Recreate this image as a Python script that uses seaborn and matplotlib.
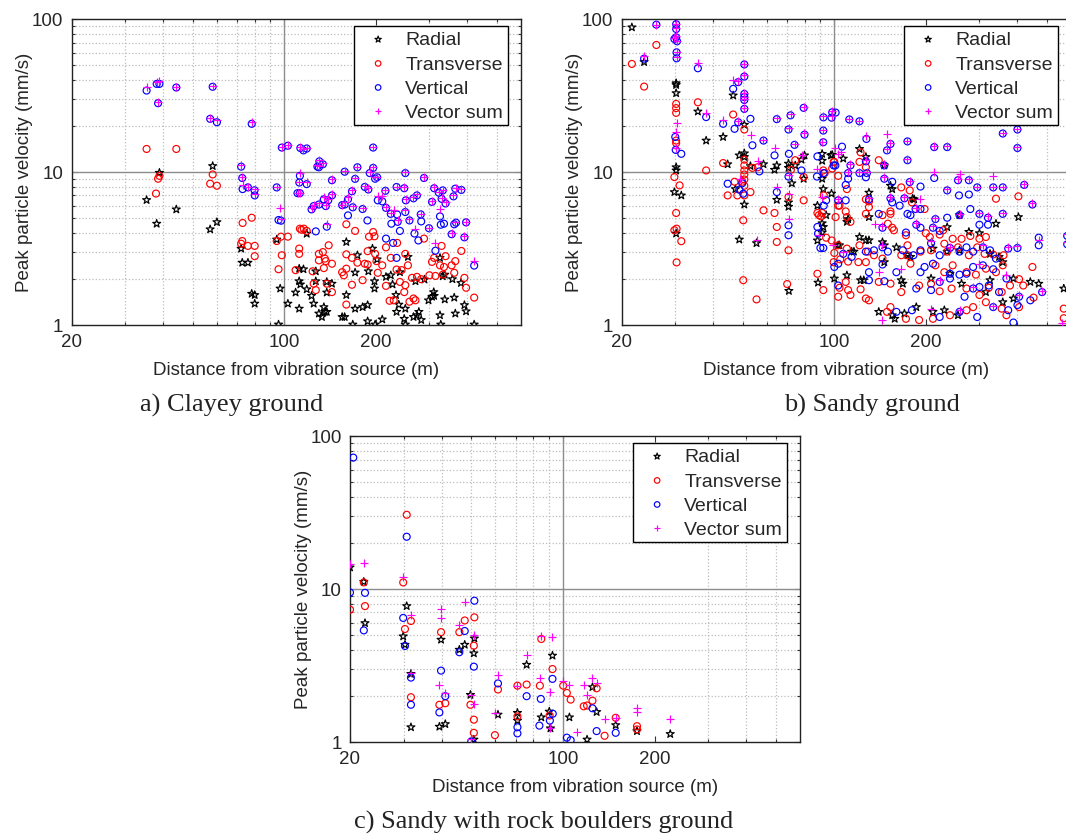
import numpy as np
import pandas as pd
import matplotlib
matplotlib.use("Agg")
import matplotlib.pyplot as plt
import seaborn as sns
from matplotlib.ticker import FixedLocator, FixedFormatter, NullFormatter

sns.set_theme(style="white")
plt.rcParams['font.family'] = ['Liberation Sans', 'DejaVu Sans']

# ---------------- Data ----------------
x_ticks = [20, 100, 200]
x_tick_labels = ["20", "100", "200"]
y_ticks = [1, 10, 100]
y_tick_labels = ["1", "10", "100"]
series_names = ["Radial", "Transverse", "Vertical", "Vector sum"]
captions = ["a) Clayey ground", "b) Sandy ground", "c) Sandy with rock boulders ground"]

# Panel a: Clayey ground
a_rad_d = [35.3, 38.1, 38.9, 44.2, 58.2, 57.1, 60.1, 72.2, 72.8, 76, 78.2, 80, 80, 94.5, 95.8, 97, 102.8, 109, 112, 115.7,
           112, 113, 112, 118.6, 118.6, 123, 125, 127, 127, 130, 133, 135, 136, 138, 138, 138, 143.5, 155, 158, 160,
           160, 168, 171, 171, 174, 181, 188, 189, 188, 195, 198, 198, 199, 202, 210, 216, 224, 227, 233, 234,
           238, 240, 248, 250, 255, 250, 266, 270, 273, 277, 282, 289, 298, 306, 310, 311, 325, 325, 327, 332,
           337, 337, 357, 362, 365, 381, 391, 396, 421]
a_rad_v = [6.53, 4.57, 9.85, 5.67, 10.9, 4.2, 4.68, 3.14, 2.54, 2.54, 1.59, 1.56, 1.37, 3.6, 1.0, 1.72, 1.37, 1.62, 2.32, 2.3,
           1.92, 1.83, 1.27, 1.7, 3.93, 1.54, 1.37, 2.23, 1.92, 1.18, 1.12, 1.3, 1.21, 1.21, 1.9, 1.62, 1.85, 1.12, 1.12, 1.56,
           3.47, 1.0, 1.27, 2.19, 2.84, 1.3, 1.34, 2.23, 1.05, 3.14, 1.92, 1.72, 1.0, 2.67, 1.08, 2.05, 2.1, 1.83, 1.56, 1.21,
           1.35, 2.2, 1.09, 1.27, 2.77, 1.0, 1.12, 1.92, 1.15, 1.21, 1.07, 1.97, 1.44, 1.52, 1.63, 1.54, 1.15, 2.73, 1.0, 2.07,
           2.12, 1.46, 1.98, 1.5, 1.18, 1.87, 1.34, 1.22, 1.0]
a_tra_d = [35.3, 44.2, 38.5, 38.9, 37.9, 58.2, 57.1, 60.1, 73, 78.2, 72.2, 72.8, 76, 80, 80, 94.5, 97.6, 102.8, 98.2, 95.8,
           112.6, 114, 116, 118.6, 112, 112, 109, 125, 127, 124, 130, 130, 134, 136, 137, 135, 138, 140, 143.5, 143.5,
           155, 160, 160, 160, 157, 160, 167, 167, 171, 174, 181, 184, 188, 188, 190, 196, 198, 199, 201, 203,
           210, 216, 216, 224, 222, 229, 234, 235, 240, 243, 248, 250, 250, 255, 258, 263, 266, 270, 273, 282,
           288, 300, 306, 311, 314, 325, 329, 332, 335, 339, 355, 362, 365, 382, 391, 396, 421]
a_tra_v = [14.1, 14.1, 9.0, 9.4, 7.2, 9.6, 8.35, 8.1, 4.62, 5.0, 3.38, 3.52, 3.27, 3.27, 2.8, 3.52, 3.76, 3.76, 2.84, 2.3,
           4.24, 4.17, 4.24, 4.1, 3.14, 2.9, 2.27, 1.85, 1.68, 2.23, 2.9, 2.63, 2.98, 2.7, 2.6, 2.34, 1.85, 3.3, 1.63, 2.5,
           2.2, 4.53, 2.88, 2.32, 2.1, 1.35, 1.82, 2.73, 4.1, 2.54, 1.95, 2.5, 2.47, 3.02, 3.76, 4.03, 3.78, 2.9, 2.6, 2.18,
           2.44, 3.2, 1.79, 2.73, 1.43, 1.44, 2.29, 3.42, 1.9, 2.27, 1.63, 1.81, 2.9, 2.44, 1.41, 2.02, 1.48, 1.44, 2.05, 1.98,
           3.65, 2.1, 2.57, 2.73, 2.08, 2.44, 3.27, 2.12, 2.38, 2.8, 2.44, 2.18, 2.6, 3.03, 2.02, 1.74, 1.5]
a_ver_d = [35.3, 38.1, 38.9, 38.5, 44.2, 58.2, 57.1, 60.1, 78.2, 98.2, 102.8, 113, 115.7, 118.6, 72.2, 72.8, 73, 76, 79.9, 80,
           94.5, 95.8, 97.6, 112.6, 112.1, 110.6, 112.6, 118.6, 127, 123, 125, 130, 130.5, 134, 128.6, 130, 135, 137, 139.5, 143.5,
           143.5, 138, 155, 158, 162, 158, 162, 167, 168, 171, 174, 181, 187.7, 184, 189, 191, 196, 196, 199, 202,
           203, 210, 215, 216, 216, 224, 225, 228, 234, 235, 234, 240, 236, 248, 250, 250, 251, 258, 266, 268,
           273, 276, 281, 282, 288, 299, 306, 311, 314, 322, 325, 327, 329, 335, 332, 339, 355, 360, 362, 365,
           367, 382, 391, 396, 421]
a_ver_v = [34.0, 37.6, 37.6, 28.1, 35.6, 36, 22.2, 21.1, 20.6, 14.4, 14.8, 14.3, 13.8, 14.2, 10.8, 9.1, 7.7, 7.9, 7.56, 7.0,
           7.9, 4.83, 4.78, 9.4, 8.5, 7.24, 7.24, 8.3, 4.07, 5.67, 5.96, 10.7, 11.7, 11.2, 10.8, 6.1, 6.6, 5.96, 6.5, 7.0,
           8.8, 4.37, 6.05, 6.1, 6.6, 10, 5.18, 7.45, 5.85, 8.98, 10.7, 5.7, 4.8, 7.95, 7.65, 9.8, 14.4, 10.6, 9, 9.2,
           6.5, 6.4, 7.5, 5.8, 3.65, 5.3, 4.57, 3.42, 7.95, 5.25, 2.73, 4.1, 4.7, 7.8, 9.8, 5.45, 6.5, 4.8, 6.7, 3.94,
           7.0, 3.55, 5.26, 4.73, 9.1, 4.27, 6.35, 7.8, 3.04, 7.3, 5.1, 4.5, 6.65, 4.57, 7.55, 6.2, 3.9, 6.9, 4.53, 7.75,
           4.64, 7.6, 3.72, 4.66, 2.43]
a_vec_d = [35.3, 38.1, 38.9, 38.5, 44.2, 58.2, 57.1, 60.1, 78.2, 98.2, 102.8, 113, 115.7, 118.6, 72.2, 72.8, 73, 76, 79.9, 80,
           94.5, 97, 97.6, 112.6, 112.1, 110.6, 112.6, 118.6, 123, 125, 130, 130.5, 134, 128.6, 130, 135, 137, 139.5, 143.5, 143.5,
           138, 155, 158, 162, 158, 167, 168, 171, 174, 181, 184, 189, 191, 196, 196, 199, 202, 203, 210, 215,
           216, 224, 229, 234, 236, 248, 250, 250, 251, 258, 266, 270, 273, 281, 288, 299, 306, 311, 314, 322,
           325, 329, 332, 339, 355, 360, 365, 367, 382, 391, 396, 421]
a_vec_v = [35.8, 38.5, 39.2, 28.5, 36, 36.5, 22.5, 21.8, 21.2, 14.6, 15, 14.6, 14.0, 14.4, 11, 9.3, 8.2, 8.0, 7.7, 7.2,
           8.0, 5.8, 4.9, 9.8, 8.6, 7.3, 7.3, 8.6, 5.8, 6.1, 10.9, 11.9, 11.4, 11, 6.2, 6.8, 6.1, 6.6, 7.1, 8.9,
           4.55, 6.1, 6.3, 6.8, 10.1, 7.6, 6.0, 9.1, 10.8, 5.8, 8.1, 7.8, 9.9, 14.6, 10.8, 9.2, 9.3, 6.9, 6.9, 7.6,
           5.9, 5.4, 5.6, 8.0, 4.8, 7.9, 9.9, 5.6, 6.6, 4.9, 6.8, 4.2, 7.1, 5.3, 9.2, 4.3, 6.4, 7.9, 3.4, 7.4,
           5.7, 6.7, 7.6, 6.3, 3.95, 7.0, 4.7, 7.8, 7.7, 3.8, 4.7, 2.6]

# Panel b: Sandy ground
b_rad_d = [21.6, 23.7, 30.2, 30.2, 30.2, 30.2, 30.2, 29.8, 31.4, 30.2, 35.6, 37.9, 43.1, 46.5, 50.6, 44.6, 48.7, 50.6, 50.6, 47.3,
           50.6, 53, 58.5, 63.6, 64.7, 48.7, 55.5, 70.7, 70.7, 72.5, 74.4, 78, 79.8, 79.3, 64.7, 70.7, 70.7, 70.9, 91.2, 91.2,
           98.4, 91.2, 92, 97.9, 88, 94, 91.2, 92, 88, 91.2, 88.4, 100, 104, 97.4,
           121, 107, 127, 146, 153, 155, 181, 183, 111, 110, 130, 130, 258, 403, 340, 235, 277, 300, 121, 127,
           130, 144, 146, 103, 114, 160, 174, 178, 211, 235, 258, 325, 348, 358, 146, 116, 122, 125, 110, 166,
           168, 208, 240, 262, 315, 325, 388, 441, 470, 140, 158, 155, 211, 230, 255, 358, 388, 186, 568, 170]
b_rad_v = [88.2, 52.3, 38, 37, 32.7, 10.7, 10.2, 7.36, 7.0, 3.94, 24.8, 16, 16.9, 31.6, 20.3, 11.2, 12.8, 13.2, 12.5, 7.7,
           6.1, 10.9, 11.2, 10.3, 11, 3.6, 3.41, 11.3, 10.6, 8.4, 11, 12, 12.8, 9.0, 6.55, 6.3, 5.9, 1.66, 13.1, 11.8,
           12.9, 9.0, 7.7, 7.2, 6.0, 5.2, 4.6, 4.35, 3.55, 4.0, 1.88, 2.0, 3.3, 12.8,
           14.1, 12.2, 12.5, 11, 8.1, 7.7, 6.66, 6.6, 4.9, 4.7, 7.3, 5.05, 5.2, 5.05, 4.57, 4.34, 4.04, 3.96, 3.74, 3.56,
           3.56, 3.46, 3.3, 3.3, 3.0, 3.2, 2.84, 2.77, 3.14, 3.0, 3.06, 2.9, 2.77, 2.56, 2.56, 3.0, 1.95, 1.95, 2.1, 1.95,
           1.85, 2.0, 2.15, 1.85, 1.63, 1.95, 2.0, 1.9, 1.85, 1.21, 1.09, 1.15, 1.21, 1.24, 1.15, 1.4, 1.48, 1.3, 1.72, 1.18]
b_tra_d = [21.6, 23.7, 26, 30.2, 30.2, 30.2, 30.2, 30.2, 29.8, 31, 30.2, 29.8, 30.3, 31.4, 30.3, 35.6, 37.9, 46.5, 50.6, 43.1,
           50.6, 50.6, 50.6, 50.6, 50.6, 50.6, 50.6, 49.8, 47, 53, 44.6, 48, 53.8, 56, 58.5, 63.6, 64.7, 64.7, 50.2, 50.2,
           55.5, 70.7, 70.7, 70, 74.4, 79.3, 79.3, 72, 88, 89, 92.3, 91.2, 90.5, 92, 93, 88, 92, 100, 98.4, 94,
           98, 100, 104, 104.6, 104,
           122, 121, 140, 127, 103, 99.5, 110, 127, 130, 130, 166, 177, 153, 153, 144, 198, 180, 101, 103, 109,
           110, 113, 127, 150, 155, 157, 172, 200, 206, 222, 228, 245, 262, 280, 300, 315, 340, 403, 448, 103,
           110, 121, 129, 135, 144, 166, 174, 174, 192, 208, 230, 235, 255, 277, 295, 312, 333, 360, 99.5, 111,
           120, 127, 178, 215, 230, 245, 272, 292, 315, 340, 358, 405, 418, 109, 111, 122, 140, 153, 166, 190,
           208, 222, 243, 272, 300, 322, 355, 378, 103, 113, 127, 130, 153, 149, 172, 190, 211, 240, 272, 286,
           315, 355, 368, 405, 452, 568, 568]
b_tra_v = [50.8, 36.1, 67.6, 27.8, 26.1, 24.3, 16, 15.4, 9.23, 8.14, 5.37, 4.14, 4.24, 3.51, 2.55, 28.5, 10.2, 23.7, 18.9, 11.4,
           12.0, 11.0, 10.2, 9.6, 8.9, 8.1, 7.0, 8.6, 8.6, 7.36, 7.0, 7.0, 10.6, 10.7, 5.59, 5.37, 4.35, 3.47, 4.81, 1.95,
           1.46, 6.83, 3.06, 1.84, 11.9, 9.23, 6.5, 10.3, 5.37, 5.2, 7.0, 5.37, 5.1, 10.2, 9.8, 2.15, 1.68, 11.6, 10.5, 3.7,
           3.55, 2.94, 6.0, 2.67, 1.74,
           13.4, 11.6, 11.9, 10.7, 9.4, 11.6, 7.7, 6.6, 6.4, 5.87, 7.9, 7.55, 5.5, 5.3, 5.2, 5.7, 6.3, 5.05, 6.0, 5.5,
           5.05, 4.7, 5.3, 4.57, 4.3, 4.14, 3.84, 3.96, 3.74, 3.88, 4.14, 3.64, 3.64, 3.8, 3.64, 3.74, 6.66, 6.9, 2.38, 3.3,
           3.14, 3.3, 3.0, 2.84, 2.7, 2.84, 3.3, 2.84, 3.0, 3.06, 3.38, 3.0, 3.2, 2.84, 3.2, 2.9, 2.87, 2.84, 2.56, 2.58,
           2.56, 2.56, 2.5, 2.44, 2.2, 2.44, 2.2, 2.12, 2.32, 2.2, 2.44, 1.98, 1.8, 1.9, 1.68, 1.7, 1.9, 1.85, 1.63, 1.8,
           1.85, 1.65, 1.72, 1.72, 1.56, 1.74, 1.63, 1.8, 1.52, 1.56, 1.48, 1.44, 1.3, 1.21, 1.09, 1.07, 1.09, 1.15, 1.24, 1.3,
           1.4, 1.27, 1.15, 1.3, 1.5, 1.27, 1.1]
b_ver_d = [26, 30.2, 30.2, 29.8, 30.2, 30.4, 30.3, 30.3, 23.7, 35.6, 46.5, 48.3, 50.6, 50.6, 50.6, 50.6, 50.6, 50.6, 37.9, 43.1,
           48.3, 47, 53, 58.5, 53.8, 64.7, 71.8, 79.3, 70.7, 79.8, 74, 63.6, 70.9, 78, 56.7, 30, 30.1, 31.4, 92.1, 97.9,
           98.4, 92, 92, 88, 87.7, 92.3, 100.8, 44.6, 48.7, 49.8, 50.2, 64.7, 70.7, 70.7, 70.7, 92.3, 94, 88, 88.4, 92,
           90, 100,
           112, 121, 127.5, 153, 174, 149, 174, 213, 235, 358, 400, 400, 106, 113, 127, 146, 101, 99.5, 111, 111,
           121, 128, 127, 146, 155, 177, 192, 213, 235, 255, 277, 257, 277, 295, 333, 358, 421, 448, 103, 109,
           109, 130, 140, 153, 155, 164, 170, 185, 174, 178, 192, 215, 235, 258, 280, 300, 320, 358, 300, 320,
           144, 172, 186, 192, 211, 222, 107, 114, 127, 135, 144, 150, 168, 182, 192, 208, 222, 240, 258, 272,
           286, 308, 325, 340, 373, 400, 470, 470, 103, 130, 144, 160, 192, 198, 211, 240, 258, 272, 286, 308,
           333, 368, 103, 130, 146, 186, 208, 222, 240, 268, 286, 300, 322, 348, 405, 441, 482, 160, 180, 222,
           258, 295, 333, 373, 400, 388, 583, 583]
b_ver_v = [91.8, 92.5, 86, 74, 75.9, 71.5, 60.5, 55.3, 55, 47.6, 34.9, 38.6, 50.4, 42, 32.3, 30.8, 29.5, 25.8, 22.8, 20.6,
           21.1, 19.1, 22.2, 16.0, 14.9, 22.1, 23.4, 26.2, 18.9, 17.5, 15.0, 12.8, 13.1, 10.2, 10.05, 16.9, 13.9, 13.1, 22.7, 22.6,
           24.5, 18.6, 15.6, 12.6, 9.3, 9.8, 11.0, 8.35, 7.63, 8.4, 7.18, 7.36, 9.3, 4.46, 3.84, 6.0, 6.5, 4.35, 3.94, 3.17,
           3.17, 2.38,
           22, 21.4, 16.4, 15.2, 15.8, 13.8, 11.9, 14.5, 14.5, 17.8, 18.9, 14.3, 14.6, 11, 11.7, 11, 24.4, 11, 9.8, 9,
           9.8, 9.8, 9.2, 9, 8.6, 8.56, 8.0, 9.1, 7.55, 8.8, 8.8, 7.0, 7.1, 7.9, 7.9, 7.9, 8.2, 6.1, 6.5, 6.5,
           8.2, 6.6, 5.3, 6.7, 6.3, 6.0, 6.7, 5.7, 5.3, 5.2, 5.7, 4.9, 5.0, 5.2, 5.7, 5.3, 5.0, 5.3, 4.5, 4.5,
           4.3, 4.0, 4.5, 4.3, 4.3, 4.1, 2.9, 2.77, 3.0, 3.06, 3.2, 3.0, 3.06, 2.84, 3.06, 3.4, 2.84, 3.17, 3.0, 3.2,
           3.0, 3.2, 3.06, 2.7, 3.14, 3.17, 3.7, 3.3, 2.5, 2.2, 2.47, 2.2, 2.2, 2.38, 2.5, 2.15, 2.12, 2.15, 2.38, 2.44,
           2.3, 2.0, 1.8, 1.95, 1.92, 1.72, 1.68, 1.9, 2.0, 1.52, 1.72, 1.76, 1.8, 1.63, 1.52, 1.44, 1.63, 1.21, 1.24, 1.12,
           1.21, 1.12, 1.3, 1.24, 1.34, 1.03, 3.8, 3.35]
b_vec_d = [23.7, 26, 30.2, 30.2, 29.8, 30.2, 30.4, 30.3, 30.3, 30.3, 30.2, 30.1, 35.6, 46.5, 48.3, 50.6, 50.6, 50.6, 50.6, 50.6,
           50.6, 37.9, 43.1, 48.3, 53.3, 58.5, 64.7, 71.8, 79.3, 70.7, 79.8, 74, 63.9, 78.6, 87.7, 91, 92.1, 97.9, 98.4, 92,
           100.5, 105, 56, 64.7, 70.7, 70.9, 55.7, 89, 99, 49, 91, 70.7,
           112, 121, 127.5, 149, 153, 174, 149, 174, 213, 235, 358, 400, 400, 103, 113, 127, 146, 213, 258, 333,
           448, 136, 140, 208, 144, 560, 470, 192, 111, 121, 128, 146, 177, 235, 255, 277, 295, 333, 358, 421,
           103, 130, 153, 170, 185, 215, 258, 300, 320, 358, 144, 186, 211, 107, 144, 208, 240, 308, 373, 400,
           583, 583, 166, 300, 368, 222, 286, 405, 482, 258, 333]
b_vec_v = [57.6, 92, 93, 87, 75, 77, 72, 61, 56, 21, 18.2, 14.2, 51.4, 40, 39, 51, 43, 33, 31, 30,
           26.2, 24.2, 21.9, 21.5, 17.3, 16.2, 22.4, 23.8, 26.5, 19.2, 17.8, 15.3, 14.2, 12.8, 10.4, 15.6, 23, 23, 25, 18.8,
           14.3, 13.4, 11.8, 7.9, 7.1, 4.9, 3.6, 3.84, 3.3, 8.9, 6.8, 9.5,
           22.3, 21.6, 17.1, 17.7, 15.4, 16, 14, 12.1, 14.7, 14.7, 18, 19.1, 14.5, 13.1, 11.2, 11.9, 11.2, 9.95, 9.6, 9.45,
           6.2, 4.57, 2.2, 1.27, 1.07, 1.03, 3.56, 6.6, 9.9, 10, 10, 9.2, 8.7, 7.7, 9, 9, 8, 8, 8, 8.3,
           6.6, 6.7, 6.8, 6.8, 5.8, 5.0, 5.3, 5.4, 5.1, 5.4, 4.4, 4.6, 4.4, 3.0, 3.3, 3.5, 3.2, 3.3, 3.2, 3.25,
           3.9, 3.45, 2.3, 2.5, 2.1, 1.95, 1.75, 1.55, 1.66, 1.25, 1.33]

# Panel c: Sandy with rock boulders ground
c_rad_d = [20, 22.2, 22.4, 29.9, 30.7, 30.3, 31.7, 31.7, 39.8, 39.3, 41.1, 45.7, 47.6, 51.2, 51, 49.7, 51, 61.2, 70.9, 70.9,
           76, 84.9, 90.2, 92.4, 91, 105, 120, 125, 129, 149, 175, 225]
c_rad_v = [13.8, 11.1, 5.96, 4.88, 7.7, 4.3, 2.77, 1.24, 4.64, 1.25, 1.3, 3.99, 4.3, 4.73, 3.78, 2.02, 1.03, 1.5, 1.54, 1.37,
           3.18, 1.44, 1.57, 3.65, 1.22, 1.44, 1.03, 2.27, 1.56, 1.28, 1.17, 1.12]
c_tra_d = [20, 22.2, 22.4, 30.7, 29.9, 30.3, 31.7, 31.7, 39.8, 39.3, 41.1, 45.7, 47.6, 51.2, 51, 51, 51, 49.7, 59.8, 61.2,
           70.9, 70.9, 76, 84, 84.9, 90.4, 92.4, 100.2, 103, 106, 117, 120, 125, 129, 137, 149, 175, 175]
c_tra_v = [7.3, 11.0, 7.7, 30.5, 11.0, 5.45, 6.15, 1.95, 5.2, 1.74, 1.78, 5.2, 6.2, 6.5, 4.24, 1.39, 1.14, 1.74, 1.1, 2.19,
           2.32, 1.46, 2.36, 2.32, 4.69, 1.48, 2.98, 2.32, 2.08, 1.88, 1.70, 1.72, 1.85, 2.23, 1.09, 1.43, 1.26, 1.2]
c_ver_d = [20.5, 20, 22.4, 22.2, 30.7, 29.9, 30.3, 31.7, 31.7, 39.8, 41.1, 39.3, 45.7, 47.6, 51.2, 51, 50, 61.2, 70.9, 70.9,
           76, 84.6, 83.7, 90.6, 92.4, 92.6, 103, 106, 125, 129, 149]
c_ver_v = [72.2, 9.45, 9.4, 5.34, 21.9, 6.44, 4.22, 2.62, 1.74, 2.91, 1.98, 1.55, 3.84, 5.29, 8.35, 3.09, 1.0, 2.4, 1.24, 1.13,
           1.98, 1.9, 1.27, 1.37, 2.57, 1.52, 1.06, 1.02, 1.65, 1.17, 1.14]
c_vec_d = [20, 22.2, 29.9, 31.7, 31.7, 39.8, 39.8, 39.3, 41.1, 45.7, 47.6, 51.2, 50, 51, 61.2, 60, 70.9, 76, 84, 85,
           90.4, 92.4, 100.2, 105, 111, 117, 120, 125, 129, 137, 149, 175, 175, 225, 91, 50]
c_vec_v = [14.5, 14.8, 12.0, 6.7, 2.81, 6.4, 7.4, 2.35, 2.08, 5.8, 8.2, 5.0, 2.02, 1.76, 2.72, 1.53, 2.3, 3.7, 2.6, 4.88,
           2.12, 4.8, 2.5, 2.36, 1.15, 2.36, 2.02, 2.6, 2.42, 1.41, 1.43, 1.66, 1.57, 1.41, 1.22, 1.04]

panels = [
    (a_rad_d, a_rad_v, a_tra_d, a_tra_v, a_ver_d, a_ver_v, a_vec_d, a_vec_v),
    (b_rad_d, b_rad_v, b_tra_d, b_tra_v, b_ver_d, b_ver_v, b_vec_d, b_vec_v),
    (c_rad_d, c_rad_v, c_tra_d, c_tra_v, c_ver_d, c_ver_v, c_vec_d, c_vec_v),
]

# ---------------- Figure ----------------
W, H = 1066, 837
fig = plt.figure(figsize=(W / 100, H / 100), dpi=100)

def px_rect(l, r, t, b):
    return [l / W, 1 - b / H, (r - l) / W, (b - t) / H]

rects = [px_rect(71.5, 521, 20, 325.5), px_rect(621.7, 1071, 20, 325.5), px_rect(350, 800, 437, 742.5)]
caption_pos = [(232, 405), (872, 405), (544, 822)]

minor_x = [30, 40, 50, 60, 70, 80, 90, 200, 300, 400, 500]
minor_y = [2, 3, 4, 5, 6, 7, 8, 9, 20, 30, 40, 50, 60, 70, 80, 90]

for i, (rect, data) in enumerate(zip(rects, panels)):
    ax = fig.add_axes(rect)
    ax.set_xscale('log')
    ax.set_yscale('log')
    rd, rv, td, tv, vd, vv, sd, sv = data
    sns.scatterplot(x=rd, y=rv, marker='*', s=36, facecolor='none', edgecolor='black',
                    linewidth=0.85, label=series_names[0], ax=ax, zorder=3)
    sns.scatterplot(x=td, y=tv, marker='o', s=25, facecolor='none', edgecolor='#ff0000',
                    linewidth=0.85, label=series_names[1], ax=ax, zorder=3)
    sns.scatterplot(x=vd, y=vv, marker='o', s=25, facecolor='none', edgecolor='#0000ff',
                    linewidth=0.85, label=series_names[2], ax=ax, zorder=3)
    sns.scatterplot(x=sd, y=sv, marker='+', s=30, color='#ff00ff',
                    linewidth=0.85, label=series_names[3], ax=ax, zorder=3)
    ax.set_xlim(20, 600)
    ax.set_ylim(1, 100)
    ax.xaxis.set_major_locator(FixedLocator(x_ticks))
    ax.xaxis.set_major_formatter(FixedFormatter(x_tick_labels))
    ax.xaxis.set_minor_locator(FixedLocator(minor_x))
    ax.xaxis.set_minor_formatter(NullFormatter())
    ax.yaxis.set_major_locator(FixedLocator(y_ticks))
    ax.yaxis.set_major_formatter(FixedFormatter(y_tick_labels))
    ax.yaxis.set_minor_locator(FixedLocator(minor_y))
    ax.yaxis.set_minor_formatter(NullFormatter())
    ax.grid(False)
    ax.grid(which='minor', axis='both', color='#bdbdbd', linestyle=':', linewidth=0.9)
    ax.axvline(100, color='#8c8c8c', linewidth=1.0, zorder=1)
    ax.axhline(10, color='#8c8c8c', linewidth=1.0, zorder=1)
    ax.set_axisbelow(True)
    ax.tick_params(which='both', direction='in', top=True, right=True, bottom=True, left=True,
                   color='#333333', width=0.8)
    ax.tick_params(which='major', length=4, labelsize=13.5, pad=6)
    ax.tick_params(which='minor', length=2.5)
    for sp in ax.spines.values():
        sp.set_color('#222222')
        sp.set_linewidth(1.0)
    ax.set_xlabel("Distance from vibration source (m)", fontsize=13.5, labelpad=8)
    ax.set_ylabel("Peak particle velocity (mm/s)", fontsize=13.5, labelpad=-1)
    leg = ax.legend(loc='upper right', bbox_to_anchor=(0.971, 0.977), borderaxespad=0,
                    frameon=True, fancybox=False, framealpha=1, edgecolor='black',
                    fontsize=14, handlelength=2.0, handletextpad=0.4, labelspacing=0.33,
                    borderpad=0.25, markerscale=0.8)
    leg.get_frame().set_linewidth(1.0)
    cx, cy = caption_pos[i]
    fig.text(cx / W, 1 - cy / H, captions[i], ha='center', va='center',
             fontsize=19, family=['Liberation Serif', 'DejaVu Serif'], color='#222222')

fig.savefig("out.png", dpi=100)
